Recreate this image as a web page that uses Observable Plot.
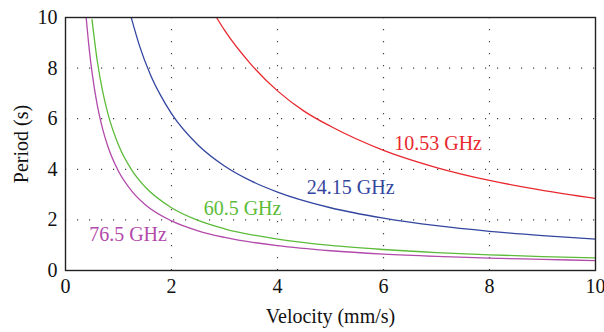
<!DOCTYPE html>
<html>
<head>
<meta charset="utf-8">
<script src="https://cdn.jsdelivr.net/npm/d3@7"></script>
<script src="https://cdn.jsdelivr.net/npm/@observablehq/plot@0.6"></script>
<style>
  html, body { margin: 0; padding: 0; background: #fff; }
</style>
</head>
<body>
<div id="chart"></div>
<script>
// Series: velocity (mm/s) -> period (s)
const v1053 = [2.85, 3, 3.5, 4, 4.5, 5, 6, 7, 8, 9, 10];
const t1053 = [10, 9.5, 8.15, 7.1, 6.3, 5.7, 4.75, 4.07, 3.56, 3.17, 2.85];

const v2415 = [1.24, 1.4, 1.6, 1.8, 2, 2.5, 3, 3.5, 4, 5, 6, 7, 8, 9, 10];
const t2415 = [10, 8.86, 7.75, 6.9, 6.2, 4.96, 4.13, 3.54, 3.1, 2.48, 2.07, 1.77, 1.55, 1.38, 1.24];

const v605 = [0.5, 0.6, 0.7, 0.8, 1, 1.25, 1.5, 2, 2.5, 3, 4, 5, 6, 7, 8, 9, 10];
const t605 = [9.92, 8.27, 7.09, 6.2, 4.96, 3.97, 3.31, 2.48, 1.98, 1.65, 1.24, 0.99, 0.83, 0.71, 0.62, 0.55, 0.5];

const v765 = [0.39, 0.45, 0.5, 0.6, 0.7, 0.8, 1, 1.25, 1.5, 2, 2.5, 3, 4, 5, 6, 7, 8, 9, 10];
const t765 = [10, 8.7, 7.84, 6.53, 5.6, 4.9, 3.92, 3.14, 2.61, 1.96, 1.57, 1.31, 0.98, 0.78, 0.65, 0.56, 0.49, 0.44, 0.39];

const seriesNames = ["10.53 GHz", "24.15 GHz", "60.5 GHz", "76.5 GHz"];
const seriesColors = ["#e8282e", "#3346a0", "#5dbb3a", "#b24aab"];
const labelV = [7.03, 5.38, 3.34, 1.18];
const labelT = [5.02, 3.28, 2.45, 1.42];

const xTicks = [0, 2, 4, 6, 8, 10];
const yTicks = [0, 2, 4, 6, 8, 10];
const gridX = [2, 4, 6, 8];
const gridY = [2, 4, 6, 8];

const allV = [v1053, v2415, v605, v765];
const allT = [t1053, t2415, t605, t765];
const rows = [];
seriesNames.forEach((name, i) => {
  allV[i].forEach((v, j) => rows.push({series: name, v, t: allT[i][j]}));
});
const labels = seriesNames.map((name, i) => ({series: name, v: labelV[i], t: labelT[i]}));

const chart = Plot.plot({
  width: 604,
  height: 332,
  marginLeft: 65,
  marginRight: 9,
  marginTop: 17,
  marginBottom: 62,
  style: {fontFamily: "'Liberation Serif', serif", fontSize: "20px", color: "#111", background: "#fff"},
  x: {domain: [0, 10]},
  y: {domain: [0, 10]},
  color: {domain: seriesNames, range: seriesColors},
  marks: [
    Plot.ruleX(gridX, {stroke: "#444", strokeWidth: 1.2, strokeDasharray: "1.2,10.8", strokeOpacity: 1}),
    Plot.ruleY(gridY, {stroke: "#444", strokeWidth: 1.2, strokeDasharray: "1.2,10.8", strokeOpacity: 1}),
    Plot.line(rows, {x: "v", y: "t", z: "series", stroke: "series", strokeWidth: 1.3, curve: "monotone-x", clip: true}),
    Plot.text(labels, {x: "v", y: "t", text: "series", fill: "series", fontSize: 20}),
    Plot.frame({stroke: "#222", strokeWidth: 1.4}),
    Plot.axisX({ticks: xTicks, tickSize: 0, tickPadding: 8, label: "Velocity (mm/s)", labelAnchor: "center", labelArrow: "none", labelOffset: 52, fontSize: 20}),
    Plot.axisY({ticks: yTicks, tickSize: 0, tickPadding: 8, label: "Period (s)", labelAnchor: "center", labelArrow: "none", labelOffset: 52, fontSize: 20})
  ]
});
document.getElementById("chart").appendChild(chart);
</script>
</body>
</html>
